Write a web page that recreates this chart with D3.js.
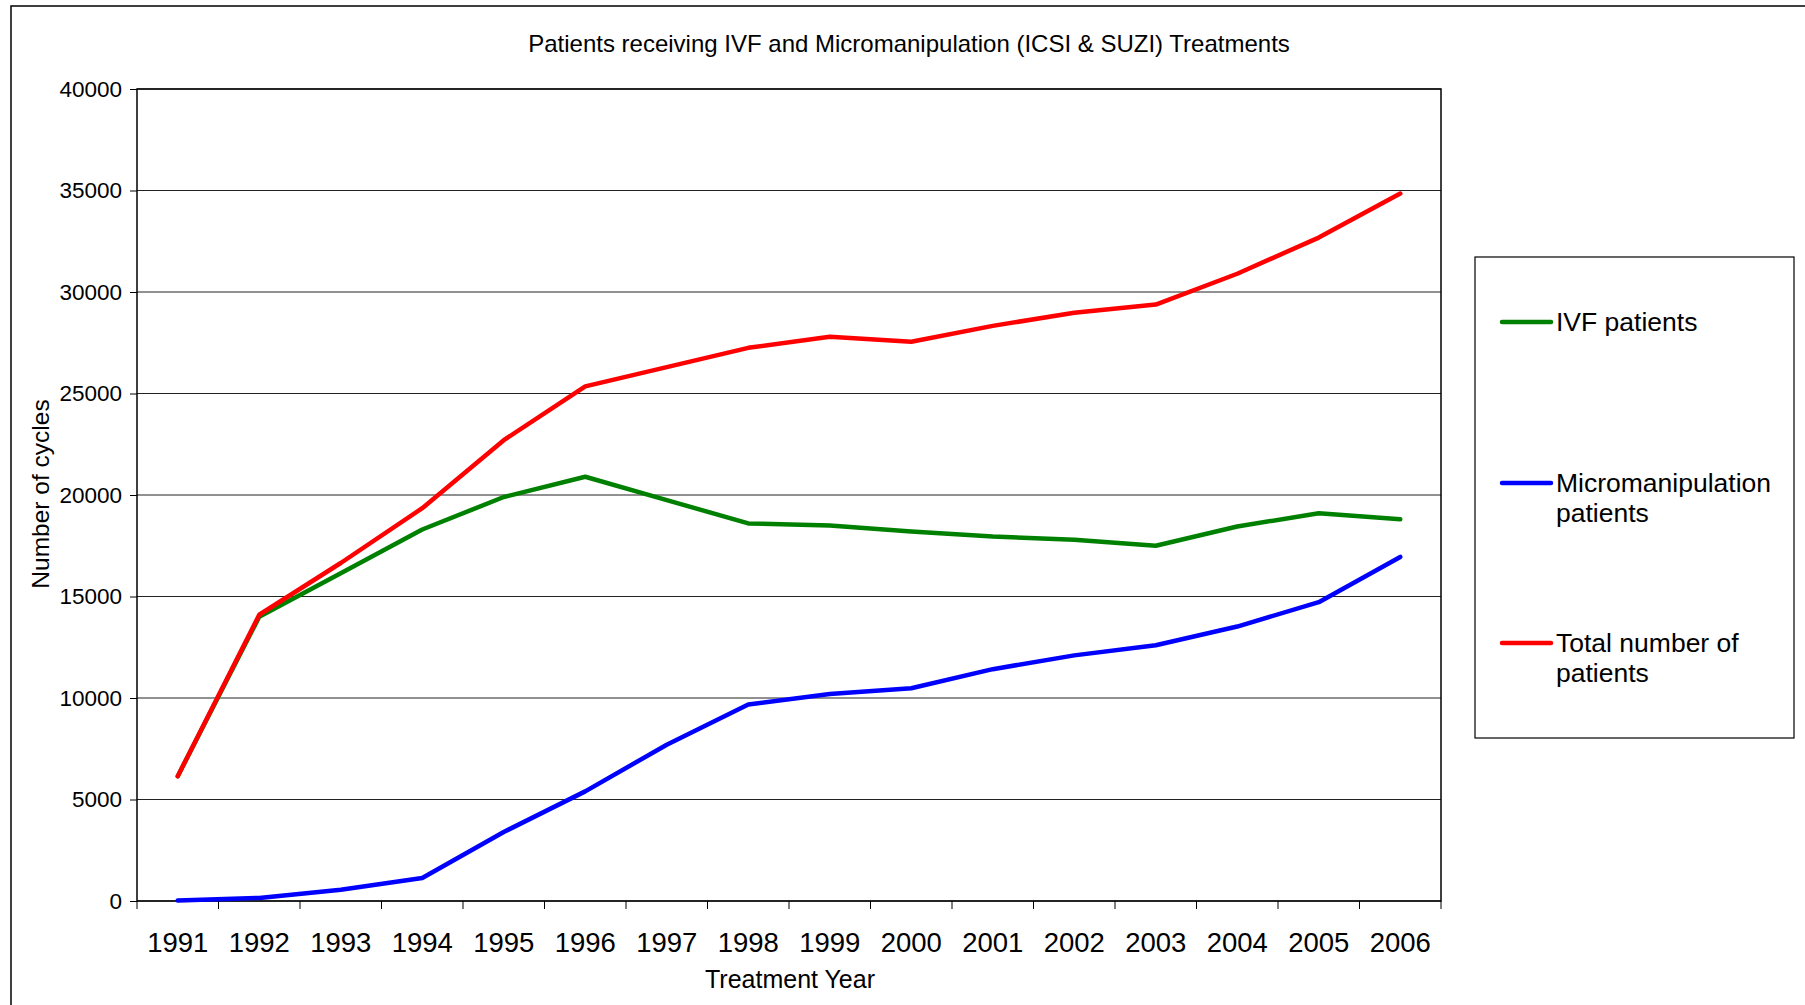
<!DOCTYPE html>
<html>
<head>
<meta charset="utf-8">
<script src="https://cdn.jsdelivr.net/npm/d3@7"></script>
<style>
  body { margin: 0; background: #fff; }
  text { font-family: "Liberation Sans", Arial, sans-serif; fill: #000; }
</style>
</head>
<body>
<svg id="chart" width="1805" height="1005"></svg>
<script>
// data
const years = ["1991","1992","1993","1994","1995","1996","1997","1998","1999","2000","2001","2002","2003","2004","2005","2006"]
const ivfPatients = [6150, 14000, 16150, 18300, 19900, 20900, 19750, 18600, 18500, 18200, 17950, 17800, 17500, 18450, 19100, 18800]
const microPatients = [30, 150, 550, 1130, 3400, 5400, 7700, 9680, 10200, 10480, 11420, 12100, 12600, 13520, 14720, 16950]
const totalPatients = [6150, 14100, 16650, 19350, 22700, 25350, 26300, 27250, 27800, 27550, 28330, 28980, 29380, 30900, 32680, 34850]
const yTicks = [0, 5000, 10000, 15000, 20000, 25000, 30000, 35000, 40000]
const seriesNames = [["IVF patients"], ["Micromanipulation", "patients"], ["Total number of", "patients"]]
const seriesColors = ["#008000", "#0000ff", "#ff0000"]

const margin = { top: 89, right: 364, bottom: 104, left: 137 }
const width = 1805 - margin.left - margin.right
const height = 1005 - margin.top - margin.bottom

const svg = d3.select("#chart")

// outer chart frame (runs off the page on right/bottom)
svg.append("rect")
    .attr("x", 11).attr("y", 6)
    .attr("width", 1900).attr("height", 1100)
    .attr("fill", "none").attr("stroke", "#000").attr("stroke-width", 1.5)

svg.append("text")
    .attr("x", 909).attr("y", 52)
    .attr("text-anchor", "middle")
    .attr("font-size", 24)
    .text("Patients receiving IVF and Micromanipulation (ICSI & SUZI) Treatments")

const g = svg.append("g")
    .attr("transform", "translate(" + margin.left + "," + margin.top + ")")

const x = d3.scaleBand().domain(years).range([0, width])
const y = d3.scaleLinear().domain([0, 40000]).range([height, 0])

// gridlines
g.append("g")
    .selectAll("line")
    .data(yTicks)
    .enter().append("line")
    .attr("x1", 0).attr("x2", width)
    .attr("y1", d => y(d)).attr("y2", d => y(d))
    .attr("stroke", "#222").attr("stroke-width", 1)

// y axis
const yAxis = g.append("g")
    .call(d3.axisLeft(y).tickValues(yTicks).tickSize(7).tickPadding(8).tickFormat(d3.format("d")))
yAxis.select(".domain").remove()
yAxis.selectAll("line").attr("stroke", "#000")
yAxis.selectAll("text").attr("font-size", 22.5).attr("font-family", "Liberation Sans, Arial, sans-serif")

// x axis with ticks between categories
const xAxis = g.append("g")
    .attr("transform", "translate(0," + height + ")")
    .call(d3.axisBottom(x).tickSize(0).tickPadding(31))
xAxis.select(".domain").remove()
xAxis.selectAll("text").attr("font-size", 27.5).attr("font-family", "Liberation Sans, Arial, sans-serif")
g.append("g")
    .selectAll("line")
    .data(years.concat(["end"]))
    .enter().append("line")
    .attr("x1", (d, i) => i * x.step()).attr("x2", (d, i) => i * x.step())
    .attr("y1", height).attr("y2", height + 8)
    .attr("stroke", "#000")

// plot frame
g.append("rect")
    .attr("width", width).attr("height", height)
    .attr("fill", "none").attr("stroke", "#000").attr("stroke-width", 1.5)

// axis titles
svg.append("text")
    .attr("x", margin.left + width / 2 + 1).attr("y", 988)
    .attr("text-anchor", "middle").attr("font-size", 25)
    .text("Treatment Year")
svg.append("text")
    .attr("transform", "translate(49," + (margin.top + height / 2 - 1) + ") rotate(-90)")
    .attr("text-anchor", "middle").attr("font-size", 24.5)
    .text("Number of cycles")

// lines
const line = d3.line()
    .x((d, i) => x(years[i]) + x.bandwidth() / 2)
    .y(d => y(d))

const allSeries = [ivfPatients, microPatients, totalPatients]
allSeries.forEach((s, i) => {
    g.append("path")
        .datum(s)
        .attr("fill", "none")
        .attr("stroke", seriesColors[i])
        .attr("stroke-width", 4.5)
        .attr("stroke-linejoin", "round")
        .attr("stroke-linecap", "round")
        .attr("d", line)
})

// legend
const legend = svg.append("g").attr("transform", "translate(1475,257)")
legend.append("rect")
    .attr("width", 319).attr("height", 481)
    .attr("fill", "#fff").attr("stroke", "#000").attr("stroke-width", 1.2)

const legendY = [65, 226, 386]
seriesNames.forEach((names, i) => {
    const item = legend.append("g").attr("transform", "translate(0," + legendY[i] + ")")
    item.append("line")
        .attr("x1", 27).attr("x2", 76)
        .attr("stroke", seriesColors[i]).attr("stroke-width", 4.5)
        .attr("stroke-linecap", "round")
    names.forEach((t, j) => {
        item.append("text")
            .attr("x", 81).attr("y", 9 + j * 30)
            .attr("font-size", 26.5)
            .text(t)
    })
})
</script>
</body>
</html>
